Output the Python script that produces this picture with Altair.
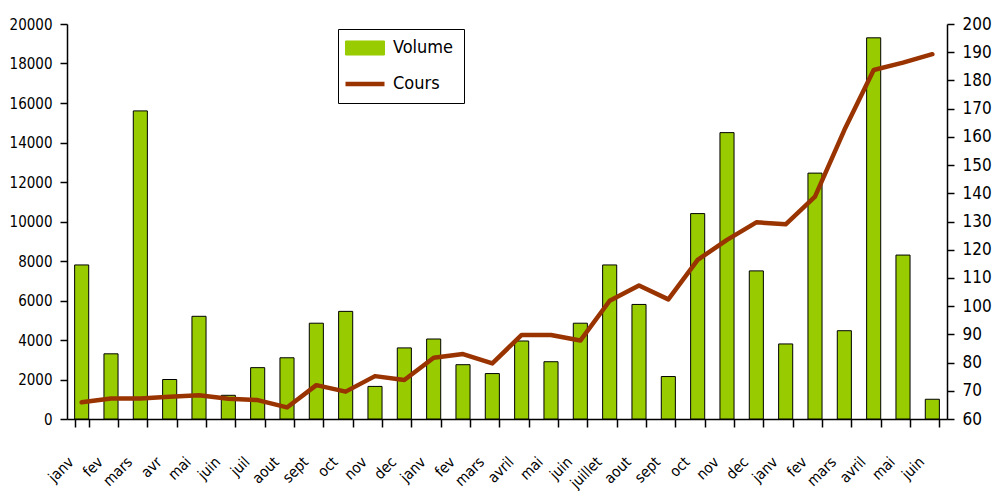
import json
import altair as alt
import pandas as pd

months = ["janv", "fev", "mars", "avr", "mai", "juin", "juil", "aout", "sept", "oct",
          "nov", "dec", "janv", "fev", "mars", "avril", "mai", "juin", "juillet", "aout",
          "sept", "oct", "nov", "dec", "janv", "fev", "mars", "avril", "mai", "juin"]
volume = [7800, 3300, 15600, 2000, 5200, 1200, 2600, 3100, 4850, 5450,
          1650, 3600, 4050, 2750, 2300, 3950, 2900, 4850, 7800, 5800,
          2150, 10400, 14500, 7500, 3800, 12450, 4470, 19300, 8300, 1000]
cours = [65.9, 67.3, 67.3, 67.9, 68.4, 67.2, 66.7, 64.1, 72.0, 69.7,
         75.2, 73.8, 81.7, 83.0, 79.7, 89.8, 89.8, 87.8, 101.9, 107.3,
         102.4, 116.4, 123.5, 129.7, 129.0, 138.8, 162.4, 183.7, 186.3, 189.3]
series = ["Volume", "Cours"]
colors = ["#99cc00", "#993300"]

FONT = "DejaVu Sans Condensed, Liberation Sans Narrow, sans-serif"

df = pd.DataFrame({"idx": list(range(len(months))), "volume": volume, "cours": cours})

label_expr = json.dumps(months) + "[datum.value]"

x = alt.X(
    "idx:O",
    scale=alt.Scale(paddingInner=0.52, paddingOuter=0.26),
    axis=alt.Axis(
        title=None, labelExpr=label_expr, labelAngle=315, labelAlign="right",
        labelBaseline="top", labelPadding=27, labelOffset=-16, tickBand="extent",
        tickSize=8, labelFontSize=15,
    ),
)

legend = alt.Legend(
    title=None, orient="none", legendX=271, legendY=5,
    strokeColor="black", fillColor="white", padding=10, rowPadding=17,
    symbolSize=1521, labelFontSize=18, labelOffset=19, symbolOffset=8, labelFont=FONT,
    labelColor="black", symbolOpacity=1,
    symbolType={"expr": "datum.value == 'Volume' ? 'M-1,-0.36H1V0.36H-1Z' : 'stroke'"},
    symbolFillColor={"expr": "datum.value == 'Volume' ? '#99cc00' : 'transparent'"},
    symbolStrokeColor={"expr": "datum.value == 'Volume' ? 'black' : '#993300'"},
    symbolStrokeWidth={"expr": "datum.value == 'Volume' ? 1 : 4.5"},
)

color_scale = alt.Scale(domain=series, range=colors)

bars = alt.Chart(df).transform_calculate(serie="'Volume'").mark_bar(
    stroke="black", strokeWidth=1
).encode(
    x=x,
    y=alt.Y("volume:Q", scale=alt.Scale(domain=[0, 20000]),
            axis=alt.Axis(title=None, values=list(range(0, 20001, 2000)), format="d",
                          labelFontSize=15, tickSize=7, labelPadding=8)),
    color=alt.Color("serie:N", scale=color_scale, legend=legend),
)

line = alt.Chart(df).transform_calculate(serie="'Cours'").mark_line(
    strokeWidth=4.5, strokeCap="round", strokeJoin="round"
).encode(
    x=x,
    y=alt.Y("cours:Q", scale=alt.Scale(domain=[60, 200]),
            axis=alt.Axis(title=None, orient="right", values=list(range(60, 201, 10)),
                          format="d", labelFontSize=17, tickSize=7, labelPadding=8)),
    color=alt.Color("serie:N", scale=color_scale, legend=legend),
)

chart = alt.layer(bars, line).resolve_scale(y="independent").properties(
    width=880, height=395,
    padding={"top": 7, "left": 1, "right": 0, "bottom": 0},
).configure_axis(
    domainColor="black", tickColor="black", labelColor="black", labelFont=FONT,
    grid=False, domainWidth=1.5, tickWidth=1.5,
).configure_view(stroke=None)

chart.save("out.html", embed_options={"renderer": "svg", "actions": False})
